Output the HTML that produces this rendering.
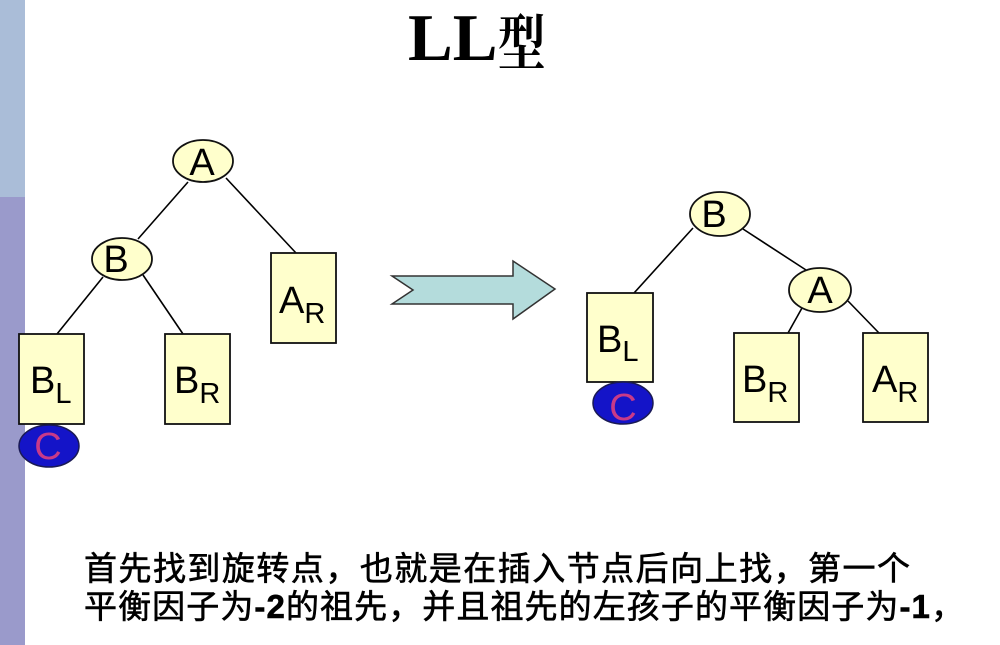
<!DOCTYPE html>
<html>
<head>
<meta charset="utf-8">
<style>
  html,body{margin:0;padding:0;background:#fff;}
  body{width:1000px;height:645px;overflow:hidden;position:relative;}
  svg{position:absolute;left:0;top:0;}
</style>
</head>
<body>
<svg width="1000" height="645" viewBox="0 0 1000 645" xmlns="http://www.w3.org/2000/svg">
  <!-- left bars -->
  <rect x="0" y="0" width="25" height="197" fill="#aabdd8"/>
  <rect x="0" y="197" width="25" height="448" fill="#9a9acb"/>

  <!-- title -->
  <text x="408" y="60" font-family="'Liberation Serif', serif" font-weight="bold" font-size="67" fill="#000">LL</text>
  <text x="498" y="64" font-family="'Liberation Serif','Noto Serif CJK SC', serif" font-weight="bold" font-size="54" fill="#000" transform="translate(498,0) scale(0.88,1.12) translate(-498,-7)">型</text>

  <g stroke="#000" stroke-width="1.6" fill="none">
    <!-- left tree lines -->
    <line x1="188" y1="182" x2="138" y2="239"/>
    <line x1="226" y1="178" x2="296" y2="253"/>
    <line x1="103" y1="277" x2="57" y2="334"/>
    <line x1="143" y1="275" x2="183" y2="334"/>
    <!-- right tree lines -->
    <line x1="693" y1="228" x2="634" y2="293"/>
    <line x1="743" y1="229" x2="806" y2="270"/>
    <line x1="802" y1="308" x2="788" y2="333"/>
    <line x1="848" y1="301" x2="879" y2="333"/>
  </g>

  <g stroke="#111" stroke-width="1.8" fill="#ffffcc">
    <!-- left tree -->
    <ellipse cx="203" cy="161" rx="30" ry="21"/>
    <ellipse cx="122" cy="259" rx="30" ry="21"/>
    <rect x="271" y="253" width="65" height="90"/>
    <rect x="19" y="334" width="65" height="90"/>
    <rect x="165" y="334" width="65" height="90"/>
    <!-- right tree -->
    <ellipse cx="720" cy="214" rx="30" ry="22"/>
    <ellipse cx="820" cy="290" rx="31" ry="22"/>
    <rect x="587" y="293" width="66" height="89"/>
    <rect x="734" y="333" width="65" height="89"/>
    <rect x="863" y="333" width="65" height="89"/>
  </g>

  <!-- C nodes -->
  <g stroke="#1a1a55" stroke-width="1.5" fill="#1414c8">
    <ellipse cx="49" cy="446" rx="30" ry="21"/>
    <ellipse cx="623" cy="403" rx="30" ry="21"/>
  </g>

  <!-- arrow -->
  <polygon points="392,276 513,276 513,261 555,289 513,319 513,304 392,304 413,290" fill="#b4dcdc" stroke="#333" stroke-width="1.5" stroke-linejoin="miter"/>

  <g font-family="'Liberation Sans', Arial, sans-serif" fill="#000" font-size="38">
    <!-- ellipse labels -->
    <text x="202" y="175" text-anchor="middle">A</text>
    <text x="116" y="272" text-anchor="middle">B</text>
    <text x="714" y="227" text-anchor="middle">B</text>
    <text x="820" y="303" text-anchor="middle">A</text>
    <text x="48" y="459" text-anchor="middle" fill="#c83a88">C</text>
    <text x="623" y="420" text-anchor="middle" fill="#c83a88">C</text>

    <!-- rect labels -->
    <text x="30" y="393">B<tspan font-size="29" dy="10">L</tspan></text>
    <text x="174" y="393">B<tspan font-size="29" dy="10">R</tspan></text>
    <text x="279" y="313">A<tspan font-size="29" dy="10">R</tspan></text>
    <text x="597" y="352">B<tspan font-size="29" dy="9">L</tspan></text>
    <text x="742" y="392">B<tspan font-size="29" dy="10">R</tspan></text>
    <text x="872" y="392">A<tspan font-size="29" dy="10">R</tspan></text>
  </g>

  <!-- bottom text -->
  <g font-family="'Liberation Sans','Noto Sans CJK SC', sans-serif" font-size="33" fill="#000" stroke="#000" stroke-width="0.6">
    <text x="84" y="580" textLength="826" lengthAdjust="spacing">首先找到旋转点，也就是在插入节点后向上找，第一个</text>
    <text x="84" y="618" textLength="880" lengthAdjust="spacing">平衡因子为<tspan font-weight="bold">-2</tspan>的祖先，并且祖先的左孩子的平衡因子为<tspan font-weight="bold">-1</tspan>，</text>
  </g>
</svg>
</body>
</html>
